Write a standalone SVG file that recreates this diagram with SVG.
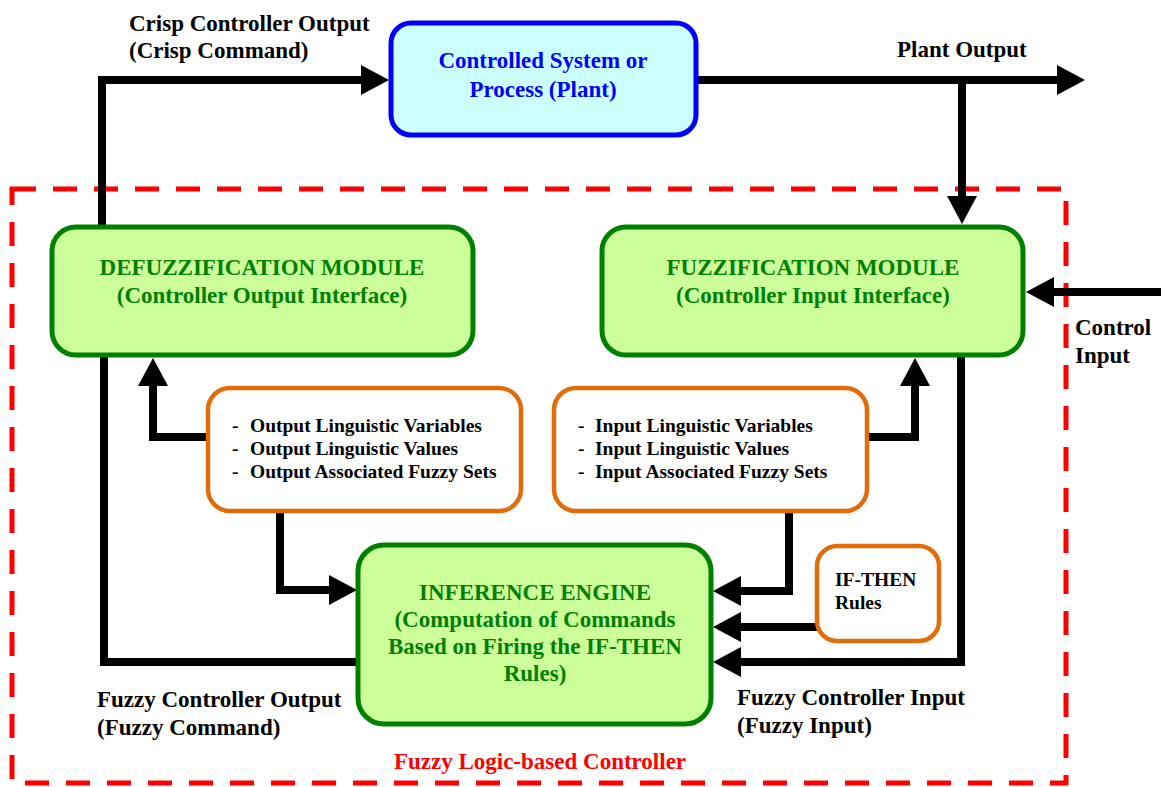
<svg xmlns="http://www.w3.org/2000/svg" width="1161" height="787" viewBox="0 0 1161 787">
<style>
text{font-family:"Liberation Serif","Times New Roman",serif;font-weight:bold}
.lbl{font-size:23px;fill:#000}
.hd{font-size:23px;fill:#008000;text-anchor:middle}
.bl{font-size:23px;fill:#0000ff;text-anchor:middle}
.ls{font-size:19.5px;fill:#000}
.gbox{fill:#ccff99;stroke:#008000;stroke-width:5}
.obox{fill:#fff;stroke:#e36c0a;stroke-width:4.5}
.conn{fill:none;stroke:#000;stroke-width:8}
</style>
<defs>
<marker id="ah" markerUnits="userSpaceOnUse" viewBox="0 0 28 30" refX="1" refY="15" markerWidth="28" markerHeight="30" orient="auto">
<path d="M0,0 L28,15 L0,30 z" fill="#000"/>
</marker>
</defs>
<rect x="12" y="189" width="1054" height="594" fill="none" stroke="#ff0000" stroke-width="5" stroke-dasharray="24 17"/>
<g id="connectors">
<path class="conn" d="M102,225 V80 H362" marker-end="url(#ah)"/>
<path class="conn" d="M698,80 H1058" marker-end="url(#ah)"/>
<path class="conn" d="M962,80 V197" marker-end="url(#ah)"/>
<path class="conn" d="M1161,292 H1053" marker-end="url(#ah)"/>
<path class="conn" d="M207,437 H153 V385" marker-end="url(#ah)"/>
<path class="conn" d="M868,437 H915 V385" marker-end="url(#ah)"/>
<path class="conn" d="M104,357 V662 H357"/>
<path class="conn" d="M280,512 V590 H330" marker-end="url(#ah)"/>
<path class="conn" d="M789,512 V591 H740" marker-end="url(#ah)"/>
<path class="conn" d="M817,627 H740" marker-end="url(#ah)"/>
<path class="conn" d="M961,357 V662 H740" marker-end="url(#ah)"/>
</g>
<g id="plant">
<rect x="391" y="23" width="305" height="112" rx="20" fill="#ccffff" stroke="#0000ff" stroke-width="5"/>
<text class="bl" x="543" y="68">Controlled System or</text>
<text class="bl" x="543" y="97">Process (Plant)</text>
</g>
<g id="defuzz">
<rect class="gbox" x="52" y="227" width="421" height="128" rx="24"/>
<text class="hd" x="262" y="275">DEFUZZIFICATION MODULE</text>
<text class="hd" x="262" y="303">(Controller Output Interface)</text>
</g>
<g id="fuzz">
<rect class="gbox" x="602" y="227" width="421" height="128" rx="24"/>
<text class="hd" x="813" y="275">FUZZIFICATION MODULE</text>
<text class="hd" x="813" y="303">(Controller Input Interface)</text>
</g>
<g id="outvars">
<rect class="obox" x="208" y="388" width="313" height="123" rx="22"/>
<text class="ls" x="232" y="432">-</text>
<text class="ls" x="250" y="432">Output Linguistic Variables</text>
<text class="ls" x="232" y="455">-</text>
<text class="ls" x="250" y="455">Output Linguistic Values</text>
<text class="ls" x="232" y="478">-</text>
<text class="ls" x="250" y="478">Output Associated Fuzzy Sets</text>
</g>
<g id="invars">
<rect class="obox" x="554" y="388" width="313" height="123" rx="22"/>
<text class="ls" x="578" y="432">-</text>
<text class="ls" x="595" y="432">Input Linguistic Variables</text>
<text class="ls" x="578" y="455">-</text>
<text class="ls" x="595" y="455">Input Linguistic Values</text>
<text class="ls" x="578" y="478">-</text>
<text class="ls" x="595" y="478">Input Associated Fuzzy Sets</text>
</g>
<g id="inference">
<rect class="gbox" x="358" y="545" width="353" height="179" rx="26"/>
<text class="hd" x="535" y="600">INFERENCE ENGINE</text>
<text class="hd" x="535" y="627">(Computation of Commands</text>
<text class="hd" x="535" y="654">Based on Firing the IF-THEN</text>
<text class="hd" x="535" y="681">Rules)</text>
</g>
<g id="rules">
<rect class="obox" x="817" y="546" width="122" height="95" rx="20"/>
<text class="ls" x="835" y="586">IF-THEN</text>
<text class="ls" x="835" y="609">Rules</text>
</g>
<g id="labels">
<text class="lbl" x="129" y="31">Crisp Controller Output</text>
<text class="lbl" x="129" y="58">(Crisp Command)</text>
<text class="lbl" x="897" y="57">Plant Output</text>
<text class="lbl" x="1075" y="335">Control</text>
<text class="lbl" x="1075" y="363">Input</text>
<text class="lbl" x="97" y="707">Fuzzy Controller Output</text>
<text class="lbl" x="97" y="735">(Fuzzy Command)</text>
<text class="lbl" x="737" y="705">Fuzzy Controller Input</text>
<text class="lbl" x="737" y="733">(Fuzzy Input)</text>
<text x="540" y="769" font-size="23" fill="#ff0000" text-anchor="middle">Fuzzy Logic-based Controller</text>
</g>
</svg>
